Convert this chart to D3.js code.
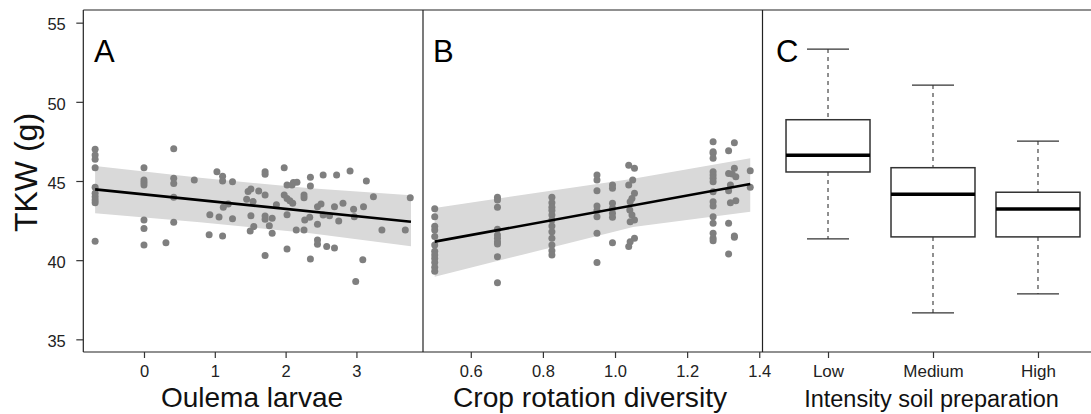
<!DOCTYPE html>
<html><head><meta charset="utf-8">
<script src="https://cdn.jsdelivr.net/npm/d3@7"></script>
<style>
body{margin:0;background:#fff}
svg{display:block;font-family:"Liberation Sans",Arial,sans-serif}
</style></head>
<body><svg id="chart" width="1091" height="414"></svg>
<script>
// ---------- data ----------
const yTicks = [35, 40, 45, 50, 55];
const larvaeTicks = [0, 1, 2, 3];
const divTicks = [0.6, 0.8, 1.0, 1.2, 1.4];
const divTickLabels = ["0.6", "0.8", "1.0", "1.2", "1.4"];

// Panel A: Oulema larvae vs TKW
const larvaeX = [
  -0.69,-0.69,-0.69,-0.69,-0.69,-0.69,-0.69,-0.69,-0.69,-0.69,
  0,0,0,0,0,0,0,
  0.42,0.42,0.42,0.42,0.42, 0.31, 0.71, 0.93, 0.92,
  1.03,1.11,1.11,1.06,1.11,1.12,1.19,1.25,1.25,
  1.47,1.51,1.54,1.45,1.62,1.51,1.50,1.55,
  1.71,1.71,1.71,1.71,1.71,1.71, 1.81,1.77,1.81, 1.87,
  1.98,1.98,2.02,2.11,2.16,2.02,2.06,2.02,2.02,2.15,2.26,2.26,2.26,2.09,2.10,
  2.35,2.35,2.27,2.34,2.45,2.45,2.45,2.35,2.45,2.50,2.53,2.53,2.58,2.62,2.69,2.72,2.69,2.75,2.81,
  2.91,2.96,2.97,2.99,3.09,3.10,3.14,3.24,3.36,3.69,3.76
];
const tkwA = [
  47.0,46.64,46.37,45.84,44.6,44.22,44.0,43.8,43.63,41.2,
  45.84,45.06,44.9,44.75,42.54,42.0,40.96,
  47.04,45.17,44.85,43.97,42.39, 41.1, 45.06, 42.87, 41.6,
  45.59,45.3,45.0,42.73,41.53,43.34,43.55,44.96,42.62,
  44.33,44.5,43.7,43.84,44.37,42.81,41.85,42.12,
  45.59,45.42,44.12,42.79,42.58,40.29, 42.65,42.18,41.7, 43.5,
  45.84,44.12,44.75,44.9,44.92,43.9,43.76,42.87,40.71,41.91,41.91,44.12,43.95,44.75,43.6,
  45.23,44.68,42.54,42.71,42.27,41.28,41.0,40.08,43.38,43.55,45.38,42.85,40.86,42.81,43.38,45.38,40.77,42.48,43.59,
  45.63,43.21,42.75,38.65,40.02,43.38,45.0,44.0,41.91,41.91,43.95
];
const fitAx = [-0.69, 3.77];
const fitAy = [44.47, 42.43];
const bandAx = [-0.69, 0.79, 2.35, 3.77];
const bandAhi = [45.95, 45.2, 44.54, 44.1];
const bandAlo = [42.96, 42.39, 41.7, 40.88];

// Panel B: crop rotation diversity vs TKW
const divX = [
  0.50,0.50,0.50,0.50,0.50,0.50,0.50,0.50,0.50,0.50,0.50,0.50,
  0.674,0.674,0.674,0.674,0.674,0.674,0.674,0.674,0.674,0.674,
  0.825,0.825,0.825,0.825,0.825,0.825,0.825,0.825,0.825,0.825,0.825,0.825,
  0.95,0.95,0.95,0.95,0.95,0.95,0.95,0.95,
  0.993,0.993,0.993,0.993,0.993,0.993,0.993,
  1.038,1.054,1.049,1.038,1.054,1.047,1.042,1.041,1.047,1.054,1.042,1.054,1.042,1.038,
  1.272,1.272,1.272,1.272,1.272,1.272,1.272,1.272,1.272,1.272,1.272,1.272,1.272,1.272,1.272,1.272,
  1.331,1.315,1.331,1.315,1.325,1.335,1.32,1.315,1.335,1.32,1.315,1.331,1.331,1.315,
  1.375,1.375
];
const tkwB = [
  43.25,42.75,42.15,41.9,41.5,40.96,40.57,40.33,40.1,39.85,39.55,39.3,
  43.97,43.8,43.34,41.95,41.59,41.38,41.17,41.02,40.22,38.58,
  43.97,43.63,43.34,43.13,42.85,42.54,42.16,41.8,41.38,40.96,40.6,40.33,
  45.38,45.06,44.39,43.42,43.13,42.75,41.7,39.85,
  44.75,44.54,43.59,43.28,42.96,42.71,41.1,
  46.0,45.8,45.06,44.75,44.22,43.9,43.69,43.17,42.85,42.54,42.43,41.38,41.17,40.86,
  47.48,46.85,46.75,46.43,45.59,45.38,45.17,44.96,44.32,43.69,43.42,42.75,42.33,41.7,41.38,41.23,
  47.42,46.91,45.8,45.48,45.44,45.27,44.75,44.39,43.76,43.63,42.33,41.53,41.45,40.39,
  45.65,44.6
];
const fitBx = [0.50, 1.375];
const fitBy = [41.17, 44.81];
const bandBx = [0.50, 1.05, 1.375];
const bandBhi = [43.3, 45.15, 46.43];
const bandBlo = [38.95, 42.1, 43.06];

// Panel C: boxplots by intensity of soil preparation
const soilCats = ["Low", "Medium", "High"];
const soilWhiskerLo = [41.34, 36.67, 37.87];
const soilQ1 = [45.57, 41.47, 41.47];
const soilMedian = [46.62, 44.16, 43.23];
const soilQ3 = [48.87, 45.84, 44.29];
const soilWhiskerHi = [53.33, 51.06, 47.52];

// ---------- layout ----------
const svg = d3.select("#chart");
const plotTop = 10, plotBottom = 352;
const pA = [83.3, 423], pB = [423, 762.5], pC = [762.5, 1103.5];
const y = d3.scaleLinear().domain([34.2, 55.8]).range([plotBottom, plotTop]);
const xA = d3.scaleLinear().domain([-0.857, 3.94]).range(pA);
const xB = d3.scaleLinear().domain([0.4675, 1.409]).range(pB);
const xC = d3.scaleLinear().domain([0.376, 3.624]).range(pC);

const ptColor = "#7f7f7f", bandColor = "#d9d9d9", axisCol = "#333";

function scatterPanel(x, xs, ys, fx, fy, bx, blo, bhi) {
  const g = svg.append("g");
  const band = bx.map((v, i) => ({x: v, lo: blo[i], hi: bhi[i]}));
  g.append("path").datum(band)
    .attr("d", d3.area().x(d => x(d.x)).y0(d => y(d.lo)).y1(d => y(d.hi)))
    .attr("fill", bandColor);
  g.selectAll("circle").data(xs.map((v, i) => [v, ys[i]])).join("circle")
    .attr("cx", d => x(d[0])).attr("cy", d => y(d[1])).attr("r", 3.5)
    .attr("fill", ptColor);
  g.append("path").datum(fx.map((v, i) => [v, fy[i]]))
    .attr("d", d3.line().x(d => x(d[0])).y(d => y(d[1])))
    .attr("stroke", "#000").attr("stroke-width", 2.6).attr("fill", "none");
}
scatterPanel(xA, larvaeX, tkwA, fitAx, fitAy, bandAx, bandAlo, bandAhi);
scatterPanel(xB, divX, tkwB, fitBx, fitBy, bandBx, bandBlo, bandBhi);

// boxplots
const gc = svg.append("g");
soilCats.forEach((c, i) => {
  const cx = xC(i + 1);
  const bw = xC(1.4) - xC(1.0), cw = xC(1.2) - xC(1.0);
  gc.append("line").attr("x1", cx).attr("x2", cx).attr("y1", y(soilWhiskerHi[i])).attr("y2", y(soilQ3[i]))
    .attr("stroke", "#555").attr("stroke-width", 1.3).attr("stroke-dasharray", "4,4");
  gc.append("line").attr("x1", cx).attr("x2", cx).attr("y1", y(soilQ1[i])).attr("y2", y(soilWhiskerLo[i]))
    .attr("stroke", "#555").attr("stroke-width", 1.3).attr("stroke-dasharray", "4,4");
  [soilWhiskerHi[i], soilWhiskerLo[i]].forEach(v => {
    gc.append("line").attr("x1", cx - cw).attr("x2", cx + cw).attr("y1", y(v)).attr("y2", y(v))
      .attr("stroke", "#333").attr("stroke-width", 1.3);
  });
  gc.append("rect").attr("x", cx - bw).attr("width", 2 * bw)
    .attr("y", y(soilQ3[i])).attr("height", y(soilQ1[i]) - y(soilQ3[i]))
    .attr("fill", "#fff").attr("stroke", "#333").attr("stroke-width", 1.5);
  gc.append("line").attr("x1", cx - bw).attr("x2", cx + bw).attr("y1", y(soilMedian[i])).attr("y2", y(soilMedian[i]))
    .attr("stroke", "#000").attr("stroke-width", 3.5);
});

// frame
const fr = svg.append("g").attr("stroke", "#222").attr("stroke-width", 1.2).attr("fill", "none");
fr.append("line").attr("x1", pA[0]).attr("x2", 1091).attr("y1", plotTop).attr("y2", plotTop);
fr.append("line").attr("x1", pA[0]).attr("x2", 1091).attr("y1", plotBottom).attr("y2", plotBottom);
[pA[0], pB[0], pC[0]].forEach(xx => fr.append("line").attr("x1", xx).attr("x2", xx).attr("y1", plotTop).attr("y2", plotBottom));

// axes
function styleAxis(g) {
  g.select(".domain").remove();
  g.selectAll(".tick line").attr("stroke", axisCol).attr("stroke-width", 1.2);
  g.selectAll(".tick text").attr("fill", "#222").style("font-size", "16.5px")
    .style("font-family", '"Liberation Sans",Arial,sans-serif');
}
const gy = svg.append("g").attr("transform", `translate(${pA[0]},0)`)
  .call(d3.axisLeft(y).tickValues(yTicks).tickSize(7).tickPadding(10.5));
styleAxis(gy);
gy.selectAll(".tick text").attr("dy", "0.44em");

function bottomAxis(scale, ticks, fmt) {
  const g = svg.append("g").attr("transform", `translate(0,${plotBottom})`)
    .call(d3.axisBottom(scale).tickValues(ticks).tickSize(6).tickFormat(fmt));
  styleAxis(g);
  g.selectAll(".tick text").attr("y", 24.5).attr("dy", null);
  return g;
}
bottomAxis(xA, larvaeTicks, d => String(d));
bottomAxis(xB, divTicks, (d, i) => divTickLabels[i]);
const gcx = bottomAxis(xC, [1, 2, 3], (d, i) => soilCats[i]);
gcx.selectAll(".tick text").style("font-size", "17px");

// titles
svg.append("text").attr("transform", "translate(37,172.5) rotate(-90)").attr("text-anchor", "middle")
  .style("font-size", "32px").attr("fill", "#111").text("TKW (g)");
svg.append("text").attr("x", 252).attr("y", 406.5).attr("text-anchor", "middle")
  .style("font-size", "28px").attr("fill", "#111").text("Oulema larvae");
svg.append("text").attr("x", 590).attr("y", 406.5).attr("text-anchor", "middle")
  .style("font-size", "28.2px").attr("fill", "#111").text("Crop rotation diversity");
svg.append("text").attr("x", 931.5).attr("y", 406.5).attr("text-anchor", "middle")
  .style("font-size", "23.5px").attr("fill", "#111").text("Intensity soil preparation");

// panel letters
[["A", 94], ["B", 433], ["C", 776]].forEach(([t, xx]) => {
  svg.append("text").attr("x", xx).attr("y", 61.5).style("font-size", "31px").attr("fill", "#000").text(t);
});
</script></body></html>
